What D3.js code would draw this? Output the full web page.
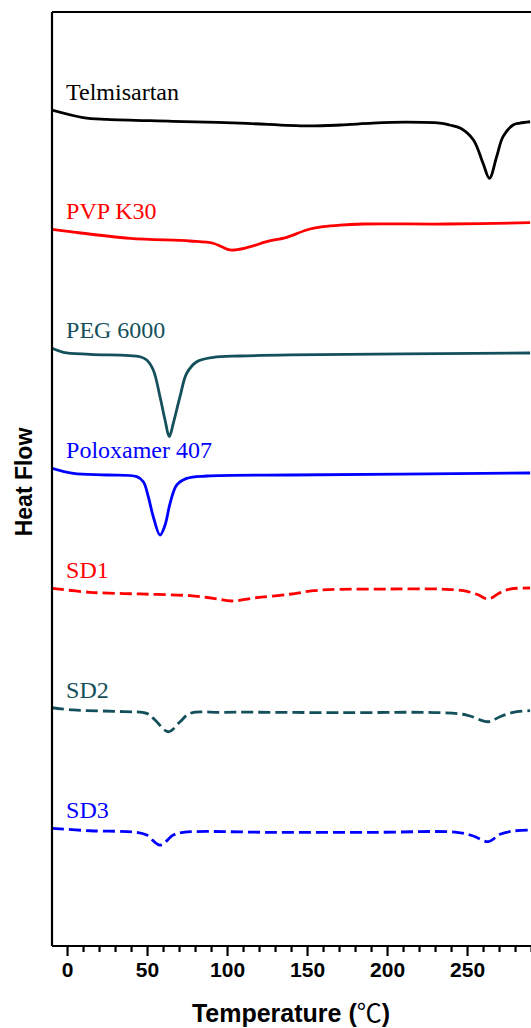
<!DOCTYPE html>
<html><head><meta charset="utf-8">
<script src="https://cdn.jsdelivr.net/npm/d3@7"></script>
<style>html,body{margin:0;padding:0;background:#fff;overflow:hidden}</style>
</head><body>
<svg id="c" width="531" height="1028"></svg>
<script>
const seriesNames = ["Telmisartan","PVP K30","PEG 6000","Poloxamer 407","SD1","SD2","SD3"];
const seriesColors = ["#000000","#ff0000","#14505b","#0000ff","#ff0000","#14505b","#0000ff"];
const seriesDashed = [false,false,false,false,true,true,true];

const telT = [-9.4,10,25,66,108,150,171,191,212,233,239,246,254,260,264,268.5,272.5,278.8,283,289.4];
const telV = [89.5,88.7,88.5,88.3,88.1,87.8,87.9,88.1,88.2,88.1,87.9,87.55,86.3,83.8,82.2,84.5,86.65,87.9,88.1,88.25];

const pvpT = [-9.4,1.9,39.4,76.9,91.25,96.7,101.9,112.3,124.8,137.3,149.8,160,170.6,185,237.3,289.4];
const pvpV = [76.73,76.48,75.77,75.48,75.24,74.87,74.52,74.76,75.41,75.88,76.66,77.01,77.19,77.3,77.3,77.44];

const pegT = [-9.4,-2.3,14.4,45.6,49.8,53.9,58.1,61.25,63.9,66.4,70.6,74.8,81.1,91.4,108.1,139.4,289.4];
const pegV = [63.99,63.57,63.35,63.09,62.74,61.67,58.81,56.32,54.53,55.96,58.81,61.32,62.56,63.03,63.17,63.28,63.49];

const polT = [-9.4,3.9,24.8,43.6,47.7,50.8,53.9,58.1,61.25,64.4,68.6,74.8,87.3,139.4,289.4];
const polV = [51.15,50.61,50.43,50.25,49.71,48.1,45.96,44.0,45.07,47.4,49.36,50.07,50.32,50.43,50.64];

const sd1T = [-9.4,14.4,45.6,76.9,91.4,102.9,118.6,139.4,153.9,170.6,201.9,233.1,247.7,256.1,263.3,270.6,276.9,289.4];
const sd1V = [38.3,37.87,37.69,37.51,37.23,36.94,37.29,37.66,38.04,38.19,38.22,38.22,38.04,37.66,37.15,37.83,38.22,38.33];

const sd2T = [-9.4,3.9,35.2,49.8,55,63.3,70.6,76.9,97.7,170.6,233.1,249.8,263.3,270.6,278.9,289.4];
const sd2V = [25.51,25.27,25.09,24.91,24.2,22.94,24.01,24.91,25.02,24.98,24.98,24.73,24.01,24.55,25.02,25.19];

const sd3T = [-9.4,14.4,43.6,49.8,58.1,66.4,72.7,128.9,191.4,243.6,253.9,263.3,270.6,278.9,289.4];
const sd3V = [12.6,12.34,12.17,11.88,10.81,11.88,12.17,12.17,12.17,12.17,11.78,11.17,11.96,12.31,12.42];

const xMajorTicks = [0,50,100,150,200,250];
const xMinorTicks = [10,20,30,40,60,70,80,90,110,120,130,140,160,170,180,190,210,220,230,240,260,270,280,290];

const allT = [telT,pvpT,pegT,polT,sd1T,sd2T,sd3T];
const allV = [telV,pvpV,pegV,polV,sd1V,sd2V,sd3V];

(function(){
const svg = d3.select("#c");
const pL = 52, pT = 12, pB = 946;
const x = d3.scaleLinear().domain([-9.4, 300]).range([pL, pL + 309.4*1.6]);
const y = d3.scaleLinear().domain([0, 100]).range([pB, pT]);

svg.append("clipPath").attr("id","pc").append("rect")
  .attr("x", pL).attr("y", pT).attr("width", 600).attr("height", pB - pT);

const line = d3.line().x(d => x(d[0])).y(d => y(d[1])).curve(d3.curveCatmullRom.alpha(0.5));

const g = svg.append("g").attr("clip-path","url(#pc)");
seriesNames.forEach((name, i) => {
  const pts = allT[i].map((t, j) => [t, allV[i][j]]);
  g.append("path").datum(pts).attr("d", line)
    .attr("fill","none").attr("stroke", seriesColors[i])
    .attr("stroke-width", 2.8)
    .attr("stroke-linejoin","round")
    .attr("stroke-dasharray", seriesDashed[i] ? "12,5" : null);
  svg.append("text").attr("x", x(0) - 1).attr("y", y(allV[i][0]) - 10)
    .attr("fill", seriesColors[i])
    .attr("font-family", "'Liberation Serif','Times New Roman',serif")
    .attr("font-size", 24).text(name);
});

svg.append("line").attr("x1", pL).attr("x2", pL).attr("y1", pT).attr("y2", pB)
  .attr("stroke","#000").attr("stroke-width",2.2);
svg.append("line").attr("x1", pL).attr("x2", 531).attr("y1", pT).attr("y2", pT)
  .attr("stroke","#000").attr("stroke-width",2.2);

const ax = svg.append("g").attr("transform", `translate(0,${pB})`)
  .call(d3.axisBottom(x).tickValues(xMajorTicks).tickSize(10).tickSizeOuter(0).tickPadding(6).tickFormat(d3.format("d")));
ax.select(".domain").attr("stroke-width", 2.2).attr("d", `M${pL},0H600`);
ax.selectAll(".tick line").attr("stroke-width", 2.2);
ax.selectAll(".tick text").attr("font-family","'Liberation Sans',Arial,sans-serif")
  .attr("font-weight","bold").attr("font-size",21).attr("fill","#000");
const axm = svg.append("g").attr("transform", `translate(0,${pB})`)
  .call(d3.axisBottom(x).tickValues(xMinorTicks).tickSize(6).tickSizeOuter(0).tickFormat(""));
axm.select(".domain").remove();
axm.selectAll(".tick line").attr("stroke-width", 2.2);

const tt = svg.append("text").attr("x", 291).attr("y", 1022).attr("text-anchor","middle")
  .attr("font-family","'Liberation Sans',Arial,sans-serif")
  .attr("font-weight","bold").attr("font-size",25);
tt.append("tspan").text("Temperature (");
tt.append("tspan").attr("font-family","'Noto Sans CJK SC',sans-serif").attr("font-weight","normal").text("℃");
tt.append("tspan").text(")");

svg.append("text").attr("transform","translate(32,482) rotate(-90)").attr("text-anchor","middle")
  .attr("font-family","'Liberation Sans',Arial,sans-serif")
  .attr("font-weight","bold").attr("font-size",23).text("Heat Flow");
})();
</script>
</body></html>
